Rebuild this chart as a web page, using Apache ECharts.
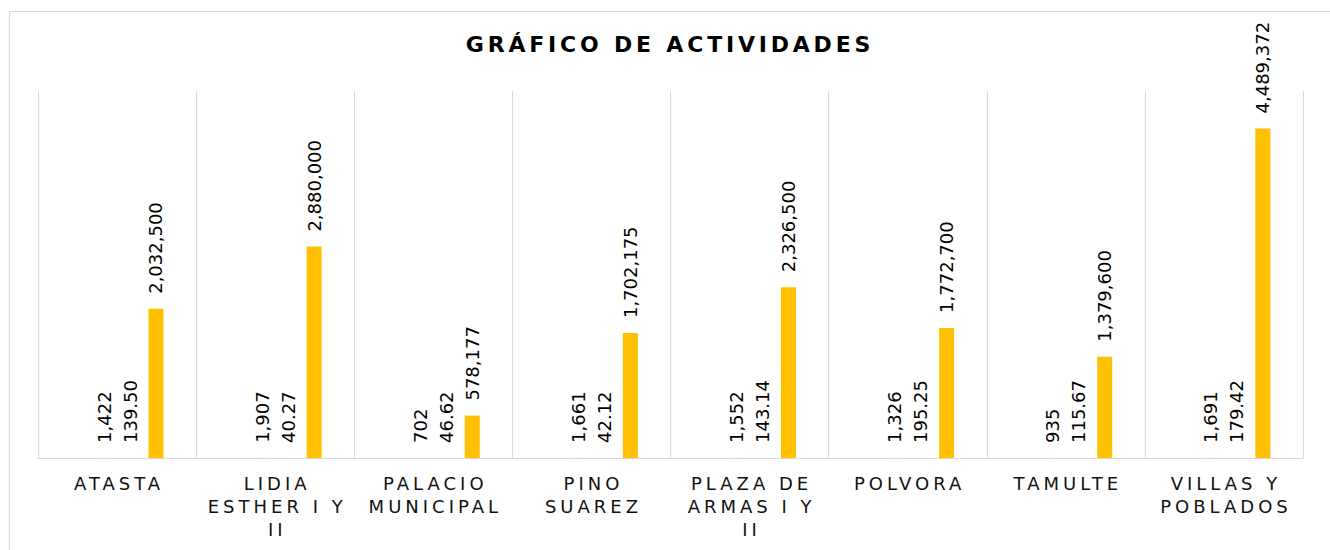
<!DOCTYPE html>
<html><head><meta charset="utf-8">
<script src="https://cdn.jsdelivr.net/npm/echarts@6/dist/echarts.min.js"></script>
<style>html,body{margin:0;padding:0;background:#fff}#c{width:1330px;height:550px}</style>
</head><body><div id="c"></div>
<script>
const titleText = 'GRÁFICO DE ACTIVIDADES';
const categories = ['ATASTA','LIDIA\nESTHER I Y\nII','PALACIO\nMUNICIPAL','PINO\nSUAREZ','PLAZA DE\nARMAS I Y\nII','POLVORA','TAMULTE','VILLAS Y\nPOBLADOS'];
const serieVacia = [null,null,null,null,null,null,null,null];
const serieA = [1422,1907,702,1661,1552,1326,935,1691];
const serieB = [139.50,40.27,46.62,42.12,143.14,195.25,115.67,179.42];
const serieC = [2032500,2880000,578177,1702175,2326500,1772700,1379600,4489372];

const FONT = 'DejaVu Sans';
const fmt0 = v => Number(v).toLocaleString('en-US',{maximumFractionDigits:0});
const fmt2 = v => Number(v).toLocaleString('en-US',{minimumFractionDigits:2,maximumFractionDigits:2});

function lbl(fmt){
  return {show:true,position:'top',rotate:90,align:'left',verticalAlign:'middle',distance:15,
    fontFamily:FONT,fontSize:18,color:'#000',formatter:p=>p.value==null?'':fmt(p.value)};
}
const common = {type:'bar',barWidth:15,barGap:'73%'};

const chart = echarts.init(document.getElementById('c'),null,{renderer:'svg'});
chart.setOption({
  animation:false,
  backgroundColor:'#fff',
  title:{text:titleText,left:'center',top:33,padding:0,
    textStyle:{fontFamily:FONT,fontSize:22,fontWeight:'bold',color:'#000',lineHeight:22}},
  graphic:[{type:'rect',shape:{x:9.5,y:11.5,width:1340,height:560},
    style:{fill:'none',stroke:'#d9d9d9',lineWidth:1},silent:true}],
  grid:{left:38,right:27,top:91,bottom:92,containLabel:false},
  xAxis:{type:'category',data:categories,
    axisLine:{lineStyle:{color:'#d9d9d9',width:1}},axisTick:{show:false},
    splitLine:{show:true,lineStyle:{color:'#d9d9d9',width:1}},
    axisLabel:{interval:0,margin:14,fontFamily:FONT,fontSize:18,lineHeight:23,color:'#111',align:'center',padding:[0,0,0,4]}},
  yAxis:{type:'value',min:0,max:5000000,show:false,splitLine:{show:false}},
  series:[
    Object.assign({name:'vacia',data:serieVacia,itemStyle:{color:'#4472c4'}},common),
    Object.assign({name:'A',data:serieA,itemStyle:{color:'#ed7d31'},label:lbl(fmt0)},common),
    Object.assign({name:'B',data:serieB,itemStyle:{color:'#a5a5a5'},label:lbl(fmt2)},common),
    Object.assign({name:'C',data:serieC,itemStyle:{color:'#FFC000'},label:lbl(fmt0)},common)
  ]
});

function spacing(){
  document.querySelectorAll('#c svg text').forEach(t=>{
    const s = t.textContent || '';
    if (!/[0-9]/.test(s)) {
      if (s===titleText) { t.style.letterSpacing = '3.8px'; t.setAttribute('dx','5'); }
      else t.style.letterSpacing = '4px';
    }
  });
}
spacing();
chart.on('finished', spacing);
setTimeout(spacing, 50);
</script></body></html>
